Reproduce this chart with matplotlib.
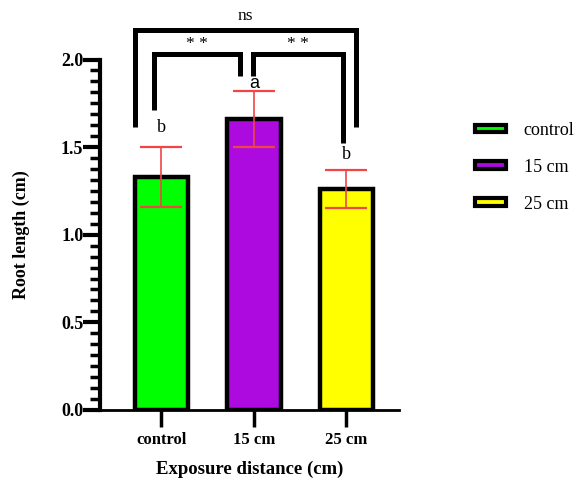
import matplotlib
matplotlib.use("Agg")
import matplotlib.pyplot as plt
from matplotlib.patches import Patch
from matplotlib.ticker import MultipleLocator

plt.rcParams['font.family'] = ['Liberation Serif', 'DejaVu Serif']

groups = ["control", "15 cm", "25 cm"]
means = [1.33, 1.66, 1.26]
errs = [0.17, 0.16, 0.11]
letters = ["b", "a", "b"]
letter_y = [1.61, 1.865, 1.46]
colors = ["#00ff00", "#ad0ae0", "#ffff00"]

fig = plt.figure(figsize=(5.85, 4.8), dpi=100)
ax = fig.add_axes([0.171, 0.146, 0.511, 0.730])

x = list(range(len(groups)))
ax.bar(x, means, width=0.58, color=colors, edgecolor="black", linewidth=3.2,
       zorder=2)
ax.errorbar(x, means, yerr=errs, fmt="none", ecolor="#f04545", elinewidth=1.2,
            capsize=15, capthick=1.6, zorder=3)

# letters above error bars
for i, (ly, l) in enumerate(zip(letter_y, letters)):
    fam = ['Liberation Sans'] if l == "a" else ['Liberation Serif']
    ax.text(i, ly, l, ha="center", va="center", fontsize=13, family=fam)

ax.set_xlim(-0.665, 2.57)
ax.set_ylim(0, 2.0)
ax.yaxis.set_major_locator(MultipleLocator(0.5))
ax.yaxis.set_minor_locator(MultipleLocator(0.0625))
ax.set_xticks(x)
ax.set_xticklabels(groups)

for s in ["top", "right"]:
    ax.spines[s].set_visible(False)
ax.spines["left"].set_linewidth(3)
ax.spines["bottom"].set_linewidth(2)
ax.tick_params(axis="y", which="major", length=12, width=3, labelsize=13, pad=0)
ax.tick_params(axis="y", which="minor", length=7, width=2.5)
ax.tick_params(axis="x", which="major", length=12, width=2.5, labelsize=12, pad=4)
for t in ax.get_xticklabels() + ax.get_yticklabels():
    t.set_fontweight("bold")

ax.set_xlabel("Exposure distance (cm)", fontsize=13.5, fontweight="bold", labelpad=9)
ax.set_ylabel("Root length (cm)", fontsize=13, fontweight="bold", labelpad=22)

# significance brackets
def bracket(x1, x2, y1, y2, ytop, label, ty):
    ax.plot([x1, x1, x2, x2], [y1, ytop, ytop, y2], color="black", lw=3.6,
            clip_on=False, solid_capstyle="butt", solid_joinstyle="miter", zorder=4)
    ax.text((x1 + x2) / 2, ty, label, ha="center", va="center", fontsize=12.5,
            clip_on=False)

bracket(-0.286, 2.11, 1.614, 1.614, 2.17, "ns", 2.25)
bracket(-0.086, 0.85, 1.711, 1.905, 2.03, "* *", 2.09)
bracket(0.99, 1.96, 1.905, 1.523, 2.03, "* *", 2.09)

handles = [Patch(facecolor=c, edgecolor="black", linewidth=3) for c in colors]
ax.legend(handles, groups, loc="upper left", bbox_to_anchor=(1.2, 0.868),
          frameon=False, fontsize=13, handlelength=1.7, handleheight=0.3,
          labelspacing=1.1, handletextpad=1.0)

fig.savefig("out.png", dpi=100)
